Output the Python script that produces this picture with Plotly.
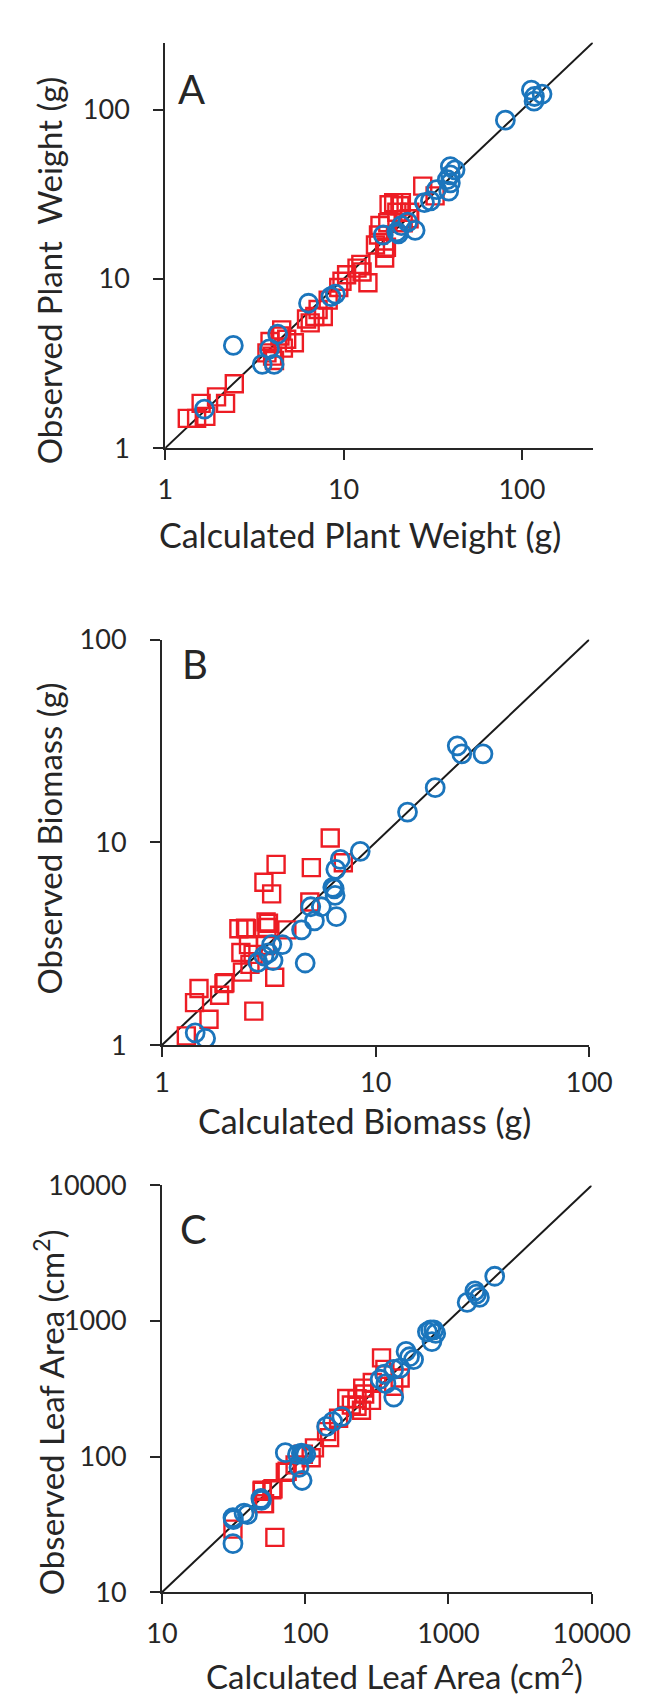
import plotly.graph_objects as go
import math

W, H = 662, 1697

# ---------------- Panel A: plant weight (g) ----------------
a_red_x = [1.33, 1.50, 1.69, 1.59, 1.94, 2.18, 2.44,
           3.72, 3.87, 4.0, 4.1, 4.4, 4.6, 4.8, 5.3, 4.5,
           6.2, 6.5, 6.9, 7.7, 7.2, 8.2,
           9.4, 9.8, 10.4, 11.9, 12.5, 12.7, 13.7,
           15.1, 15.7, 16.0, 17.0, 17.0, 17.4, 17.7, 18.0, 19.1, 19.9, 20.7, 21.1, 21.6, 23.3, 23.5, 27.8, 32.6]
a_red_y = [1.50, 1.50, 1.54, 1.84, 2.01, 1.84, 2.40,
           3.66, 4.27, 3.5, 3.3, 4.6, 3.9, 4.4, 4.2, 5.0,
           5.8, 5.5, 6.0, 6.0, 6.6, 7.5,
           8.9, 9.7, 10.6, 11.6, 12.2, 11.0, 9.5,
           15.9, 18.2, 20.7, 13.3, 15.2, 15.4, 21.5, 27.5, 28.3, 24.8, 27.1, 28.3, 21.5, 22.7, 24.8, 35.4, 31.0]
a_blue_x = [1.66, 2.41, 3.5, 4.08, 3.84, 4.27, 6.36, 8.5, 9.0,
            16.7, 19.9, 20.3, 21.1, 22.9, 25.2, 28.4, 30.7, 33.2, 38.9, 38.2, 39.7, 39.7, 42.2, 39.7,
            80.8, 113, 117.6, 129.7, 117]
a_blue_y = [1.70, 4.05, 3.13, 3.13, 3.86, 4.72, 7.19, 7.87, 8.15,
            18.2, 19.0, 18.5, 20.7, 21.7, 19.4, 28.3, 29.0, 33.8, 33.1, 38.7, 41.3, 46.2, 44.2, 37.0,
            86.9, 131, 120, 124, 112.5]
a_line = [1, 250]
a_ticks = [1, 10, 100]

# ---------------- Panel B: biomass (g) ----------------
b_red_x = [1.30, 1.42, 1.49, 1.66, 1.86, 1.95, 1.97, 2.69, 2.38, 2.34, 2.54, 2.46, 2.67, 2.58,
           3.0, 3.42, 3.26, 3.15, 3.1, 3.37, 3.05, 3.84, 6.13, 5.0, 4.92, 7.06, 2.29, 2.49, 3.07]
b_red_y = [1.11, 1.62, 1.90, 1.34, 1.76, 2.01, 2.03, 1.47, 2.29, 2.86, 3.13, 3.77, 2.80, 2.50,
           6.35, 7.78, 5.57, 3.99, 3.8, 2.16, 3.1, 3.70, 10.5, 7.5, 5.08, 7.93, 3.75, 3.75, 4.05]
b_blue_x = [1.43, 1.60, 2.81, 3.0, 3.31, 3.26, 3.66, 3.15, 4.50, 4.68, 5.17, 4.97, 5.57, 6.55,
            6.30, 6.46, 6.4, 6.51, 6.83, 8.47, 14.1, 19.0, 24.1, 25.3, 31.8]
b_blue_y = [1.15, 1.08, 2.56, 2.75, 2.61, 3.13, 3.13, 2.85, 3.70, 2.54, 4.10, 4.81, 4.81, 4.30,
            6.0, 5.47, 5.9, 7.36, 8.23, 9.03, 14.1, 18.6, 29.9, 27.3, 27.3]
b_line = [1, 100]
b_ticks = [1, 10, 100]

# ---------------- Panel C: leaf area (cm2) ----------------
c_red_x = [31.3, 61.4, 50, 58.5, 51.5, 74.8, 85, 50.2, 59.6, 52, 72.6, 97, 116, 110, 141, 148,
           171, 230, 210, 247, 260, 290, 294, 341, 360, 415, 460, 252, 230, 195]
c_red_y = [29.2, 25.4, 55.5, 57, 45, 78, 87, 56.5, 58, 45, 76.5, 104, 116, 98, 153, 138,
           192, 267, 240, 220, 290, 260, 352, 535, 440, 330, 380, 320, 235, 268]
c_blue_x = [31.5, 37.4, 39.5, 49.0, 49.5, 72.6, 88.3, 94, 97, 101, 90.5, 95.1, 31.3, 31.3,
            141, 155.5, 180, 333, 358, 366, 415, 415, 460, 506, 571, 535,
            713, 750, 790, 767, 815, 2104, 1529, 1351, 1645, 1570]
c_blue_y = [34.3, 38.3, 37.3, 49.1, 47.5, 107, 104, 106, 104, 104, 83.2, 66.7, 22.8, 35.5,
            167, 181, 197, 372, 405, 345, 440, 275, 450, 597, 520, 545,
            832, 860, 860, 705, 810, 2138, 1667, 1372, 1492, 1580]
c_line = [10, 10000]
c_ticks = [10, 100, 1000, 10000]

RED = "#ED1C24"
BLUE = "#1B75BC"
AX = "#262626"
FONT = "Lato"

fig = go.Figure()


def dom_x(p0, p1):
    return [p0 / W, p1 / W]


def dom_y(top, bottom):
    return [1 - bottom / H, 1 - top / H]


panels = [
    ("", a_red_x, a_red_y, a_blue_x, a_blue_y, a_line, a_ticks,
     [0, math.log10(250)], dom_x(154, 620.4), dom_y(16.9, 430.5), 6),
    ("2", b_red_x, b_red_y, b_blue_x, b_blue_y, b_line, b_ticks,
     [0, 2], dom_x(150.5, 616.5), dom_y(625.7, 1039.3), 3),
    ("3", c_red_x, c_red_y, c_blue_x, c_blue_y, c_line, c_ticks,
     [1, 4], dom_x(150.5, 619.1), dom_y(1182.4, 1597.3), 6),
]

for sfx, rx, ry, bx, by, ln, ticks, rng, dx, dy, xstand in panels:
    xa, ya = "x" + sfx, "y" + sfx
    fig.add_trace(go.Scatter(x=ln, y=ln, mode="lines", xaxis=xa, yaxis=ya,
                             line=dict(color="#1a1a1a", width=2), showlegend=False,
                             hoverinfo="skip", cliponaxis=False))
    fig.add_trace(go.Scatter(x=rx, y=ry, mode="markers", xaxis=xa, yaxis=ya, showlegend=False,
                             marker=dict(symbol="square-open", size=17, color=RED,
                                         line=dict(color=RED, width=2.4))))
    fig.add_trace(go.Scatter(x=bx, y=by, mode="markers", xaxis=xa, yaxis=ya, showlegend=False,
                             marker=dict(symbol="circle-open", size=18, color=BLUE,
                                         line=dict(color=BLUE, width=2.8))))
    common = dict(type="log", range=rng, tickvals=ticks, ticktext=[str(t) for t in ticks],
                  showgrid=False, zeroline=False, showline=True, linecolor=AX, linewidth=2,
                  ticks="outside", ticklen=10, tickwidth=2, tickcolor=AX,
                  tickfont=dict(family=FONT, size=27, color=AX), fixedrange=True)
    fig.layout["xaxis" + sfx] = dict(domain=dx, anchor=ya, ticklabelstandoff=xstand, **common)
    fig.layout["yaxis" + sfx] = dict(domain=dy, anchor=xa, ticklabelstandoff=18, **common)


def ann(text, px, py, size, angle=0):
    fig.add_annotation(text=text, x=px / W, y=1 - py / H, xref="paper", yref="paper",
                       showarrow=False, textangle=angle, xanchor="center", yanchor="middle",
                       font=dict(family=FONT, size=size, color=AX))


ann("A", 183, 64, 40)
ann("B", 186, 651, 40)
ann("C", 185, 1227, 40)
ann("Calculated Plant Weight (g)", 366.7, 519, 34)
ann("Calculated Biomass (g)", 371.7, 1116, 34)
ann("Calculated Leaf Area (cm<sup>2</sup>)", 404, 1681, 33)
ann("Observed Plant \u00a0Weight (g)", 27.5, 249, 33, -90)
ann("Observed Biomass (g)", 27.5, 828.5, 33, -90)
ann("Observed Leaf Area (cm<sup>2</sup>)", 27.5, 1413.5, 33, -90)

fig.update_layout(width=W, height=H, margin=dict(l=0, r=0, t=0, b=0),
                  paper_bgcolor="white", plot_bgcolor="white", showlegend=False)

fig.write_html("out.html")
